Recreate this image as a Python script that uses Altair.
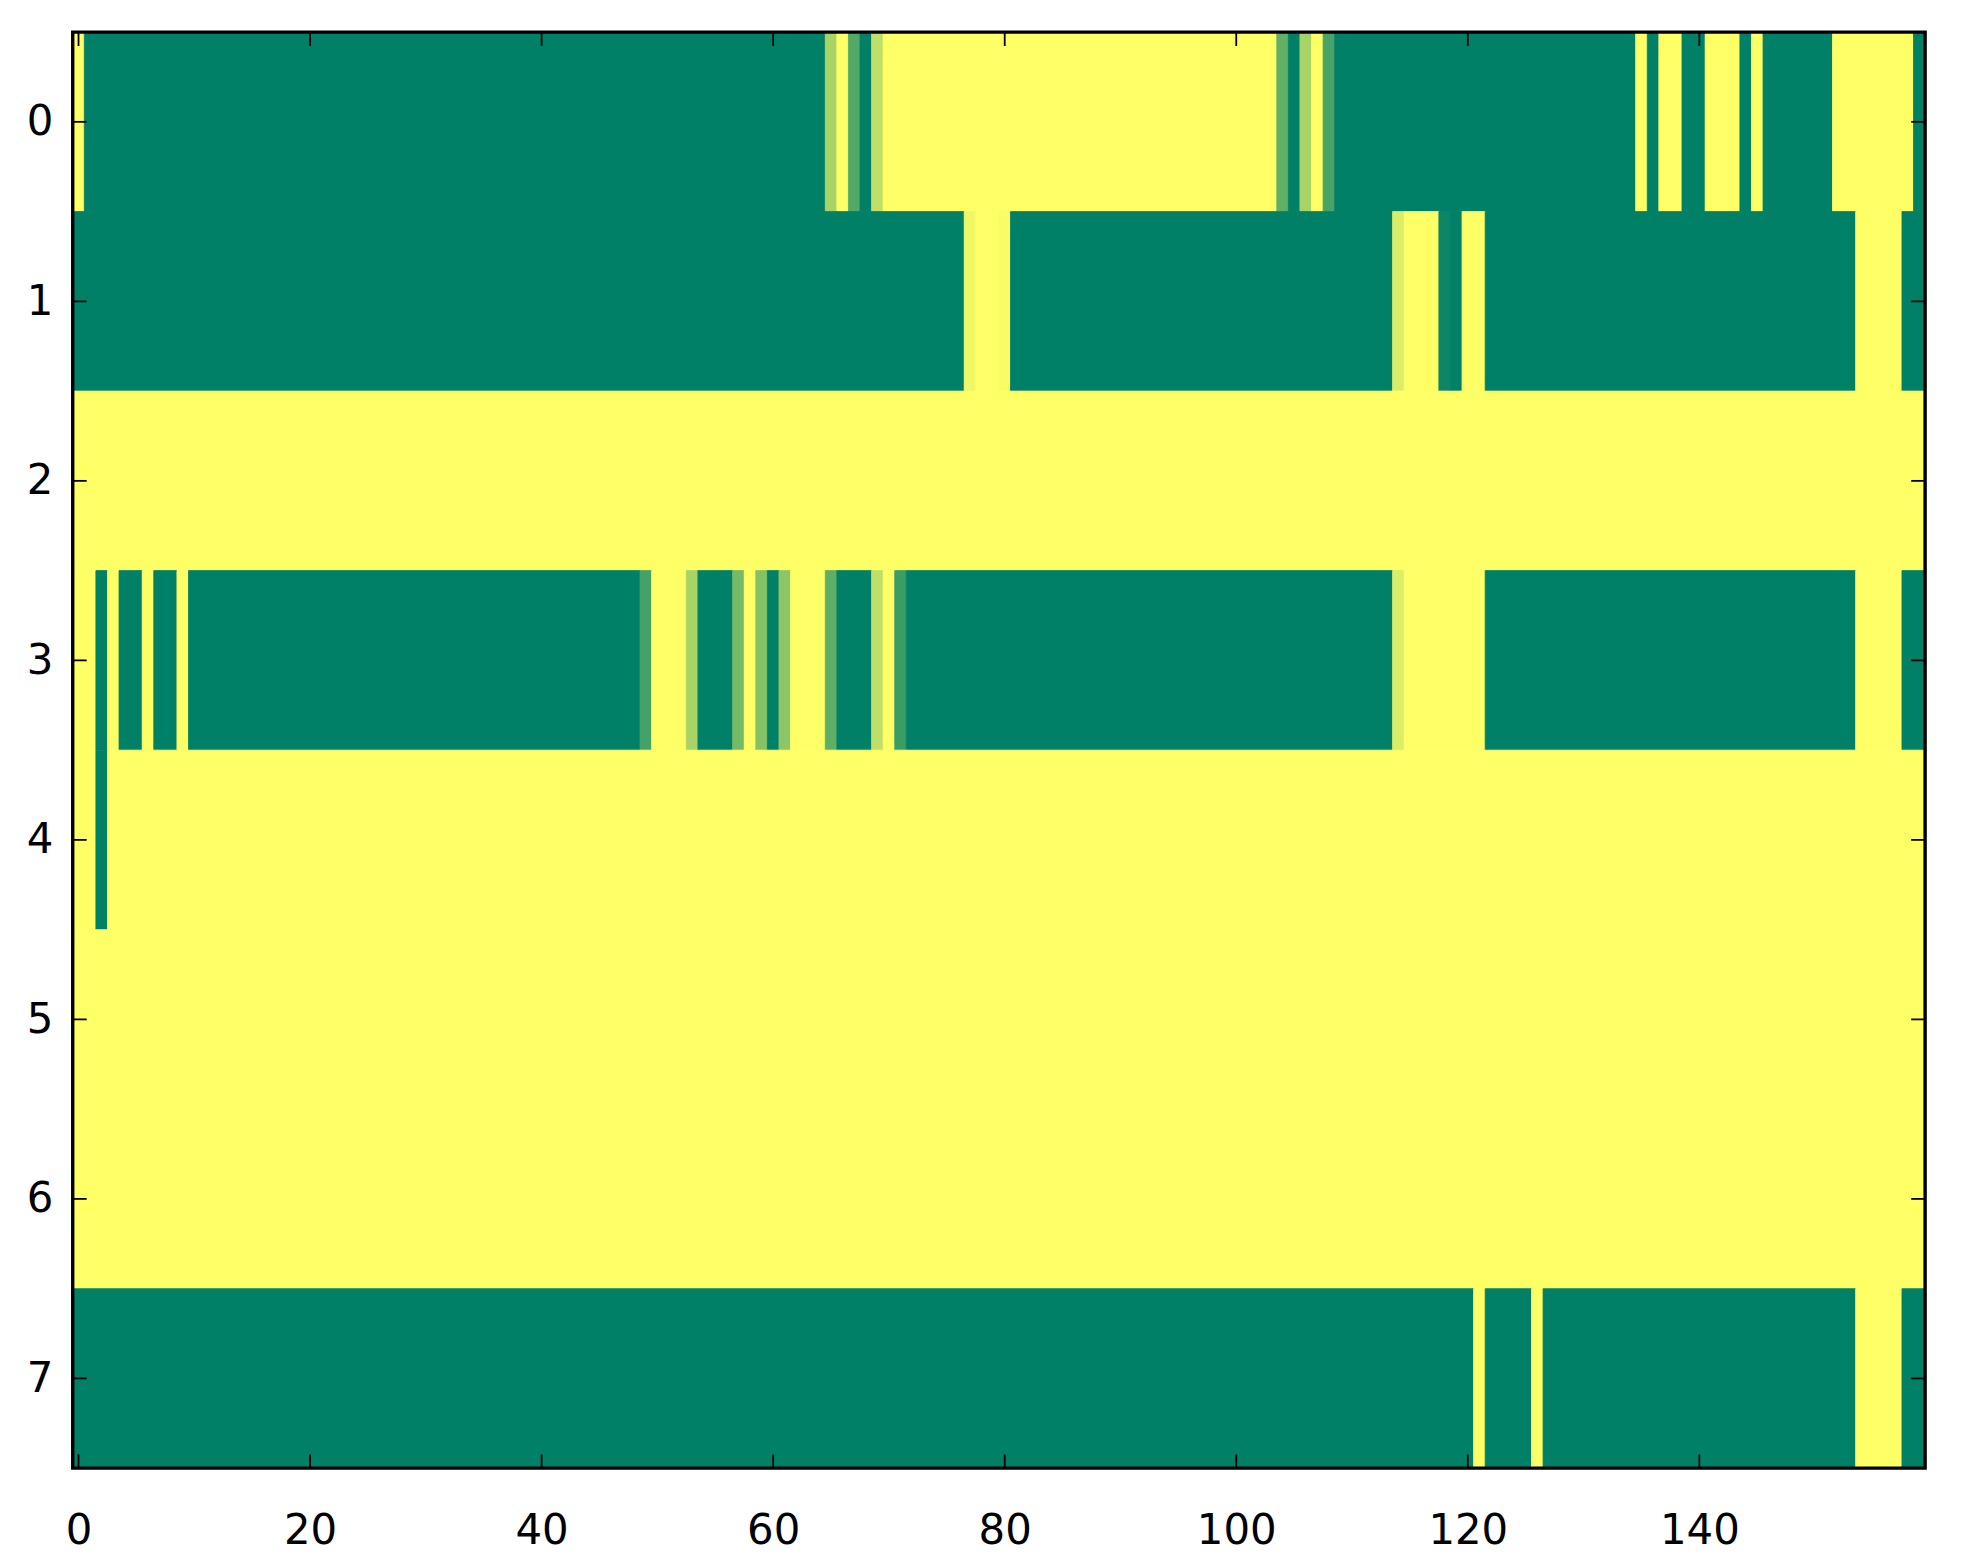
import altair as alt
import pandas as pd

# ---- data (runs of columns: start, end, value) ----
ROW_LABELS = [0, 1, 2, 3, 4, 5, 6, 7]
X_TICKS = [0, 20, 40, 60, 80, 100, 120, 140]
N_COLS = 160

row0 = [(0, 0, 1.0), (1, 64, 0.0), (65, 65, 0.66), (66, 66, 1.0), (67, 67, 0.32),
        (68, 68, 0.0), (69, 69, 0.75), (70, 103, 1.0), (104, 104, 0.38), (105, 105, 0.0),
        (106, 106, 0.66), (107, 107, 1.0), (108, 108, 0.28), (109, 134, 0.0), (135, 135, 1.0),
        (136, 136, 0.0), (137, 138, 1.0), (139, 140, 0.0), (141, 143, 1.0), (144, 144, 0.0),
        (145, 145, 1.0), (146, 151, 0.0), (152, 158, 1.0), (159, 159, 0.0)]
row1 = [(0, 76, 0.0), (77, 77, 0.94), (78, 79, 1.0), (80, 80, 0.98), (81, 113, 0.0),
        (114, 114, 0.86), (115, 117, 1.0), (118, 118, 0.05), (119, 119, 0.0), (120, 121, 1.0),
        (122, 153, 0.0), (154, 157, 1.0), (158, 159, 0.0)]
row2 = [(0, 159, 1.0)]
row3 = [(0, 1, 1.0), (2, 2, 0.0), (3, 3, 1.0), (4, 5, 0.0), (6, 6, 1.0), (7, 8, 0.0),
        (9, 9, 1.0), (10, 48, 0.0), (49, 49, 0.27), (50, 52, 1.0), (53, 53, 0.66),
        (54, 56, 0.0), (57, 57, 0.46), (58, 58, 1.0), (59, 59, 0.52), (60, 60, 0.0),
        (61, 61, 0.55), (62, 64, 1.0), (65, 65, 0.37), (66, 68, 0.0), (69, 69, 0.75),
        (70, 70, 1.0), (71, 71, 0.23), (72, 113, 0.0), (114, 114, 0.86), (115, 121, 1.0),
        (122, 153, 0.0), (154, 157, 1.0), (158, 159, 0.0)]
row4 = [(0, 1, 1.0), (2, 2, 0.0), (3, 159, 1.0)]
row5 = [(0, 159, 1.0)]
row6 = [(0, 159, 1.0)]
row7 = [(0, 120, 0.0), (121, 121, 1.0), (122, 125, 0.0), (126, 126, 1.0), (127, 153, 0.0),
        (154, 157, 1.0), (158, 159, 0.0)]
ROWS = [row0, row1, row2, row3, row4, row5, row6, row7]

recs = []
for r, runs in zip(ROW_LABELS, ROWS):
    for a, b, v in runs:
        recs.append({"c0": a - 0.5, "c1": b + 0.5, "r0": r - 0.5, "r1": r + 0.5, "value": v})
df = pd.DataFrame(recs)

W, H = 1860, 1442
TL = 14
FONT = "DejaVu Sans"

xs = alt.Scale(domain=[-0.5, N_COLS - 0.5], nice=False, zero=False)
ys = alt.Scale(domain=[-0.5, 7.5], nice=False, zero=False, reverse=True)
cs = alt.Scale(domain=[0, 1], range=["#008066", "#ffff66"], interpolate="rgb")

ax_x = alt.Axis(values=X_TICKS, ticks=False, tickSize=0, domain=False, grid=False,
                labelFontSize=42, labelFont=FONT, labelColor="black",
                labelPadding=63, labelBaseline="middle", labelFlush=False, title="")
ax_y = alt.Axis(values=ROW_LABELS, ticks=False, tickSize=0, domain=False, grid=False,
                labelFontSize=42, labelFont=FONT, labelColor="black",
                labelPadding=20, labelAlign="right", labelFlush=False, title="")

heat = alt.Chart(df).mark_rect(strokeWidth=0.8).encode(
    x=alt.X("c0:Q", scale=xs, axis=ax_x),
    x2="c1",
    y=alt.Y("r0:Q", scale=ys, axis=ax_y),
    y2="r1",
    color=alt.Color("value:Q", scale=cs, legend=None),
    stroke=alt.Stroke("value:Q", scale=cs, legend=None),
)

tx = pd.DataFrame({"t": X_TICKS})
ty = pd.DataFrame({"t": ROW_LABELS})

bottom = alt.Chart(tx).mark_rule(color="black", strokeWidth=1.8).encode(
    x=alt.X("t:Q", scale=xs, axis=ax_x), y=alt.value(H), y2=alt.value(H - TL))
top = alt.Chart(tx).mark_rule(color="black", strokeWidth=1.8).encode(
    x=alt.X("t:Q", scale=xs, axis=ax_x), y=alt.value(0), y2=alt.value(TL))
left = alt.Chart(ty).mark_rule(color="black", strokeWidth=1.8).encode(
    y=alt.Y("t:Q", scale=ys, axis=ax_y), x=alt.value(0), x2=alt.value(TL))
right = alt.Chart(ty).mark_rule(color="black", strokeWidth=1.8).encode(
    y=alt.Y("t:Q", scale=ys, axis=ax_y), x=alt.value(W), x2=alt.value(W - TL))

frame = alt.Chart(pd.DataFrame({"k": [0]})).mark_rect(
    fillOpacity=0, stroke="black", strokeWidth=3.4).encode(
    x=alt.value(0), x2=alt.value(W), y=alt.value(0), y2=alt.value(H))

chart = alt.layer(heat, bottom, top, left, right, frame).properties(
    width=W, height=H,
    autosize=alt.AutoSizeParams(type="none"),
    padding={"left": 65, "top": 21, "right": 30, "bottom": 85},
    background="white",
).configure_view(strokeWidth=0)

chart.save("out.html", embed_options={"renderer": "svg", "actions": False})
